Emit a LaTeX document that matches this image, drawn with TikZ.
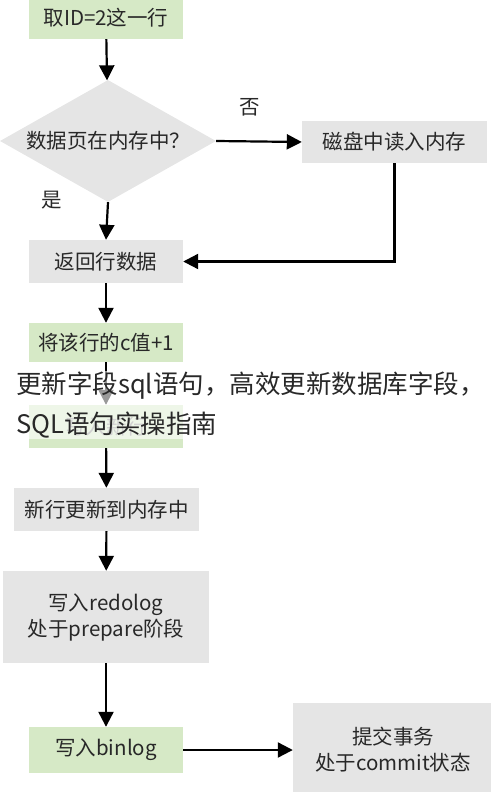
\documentclass[tikz,border=0pt]{standalone}
\usepackage{fontspec}
\setmainfont{Noto Sans CJK SC}
\usetikzlibrary{arrows.meta,shapes.geometric}
\definecolor{boxgreen}{RGB}{214,233,198}
\definecolor{boxgray}{RGB}{229,229,229}
\definecolor{inkgray}{RGB}{40,40,40}
\tikzset{
	greenbox/.style={fill=boxgreen, inner sep=0pt, text=inkgray, font=\fontsize{20.5}{24}\selectfont},
	graybox/.style={fill=boxgray, inner sep=0pt, text=inkgray, align=center, font=\fontsize{20.5}{26}\selectfont},
	flow/.style={line width=2.2pt, -{Triangle[length=15pt,width=15pt]}},
}

\begin{document}
\begin{tikzpicture}[x=1pt,y=-1pt]
		%%%%% START %%%%%
		\useasboundingbox (0, 0) rectangle (490, 792);
		
		\node[greenbox, minimum width=154pt, minimum height=42pt] (idrow) at (106, 18) {取ID=2这一行};
		\node[graybox, shape=diamond, aspect=1.77, minimum width=216pt, minimum height=122pt] (inmem) at (108, 141) {数据页在内存中？};
		\node[graybox, minimum width=185pt, minimum height=42pt] (disk) at (394.5, 142) {磁盘中读入内存};
		\node[text=inkgray, font=\fontsize{20.5}{24}\selectfont] (no) at (250, 107) {否};
		\node[text=inkgray, font=\fontsize{20.5}{24}\selectfont] (yes) at (52, 200) {是};
		
		\node[graybox, minimum width=154pt, minimum height=43pt] (ret) at (106, 261.5) {返回行数据};
		\node[greenbox, minimum width=154pt, minimum height=39pt] (incr) at (106, 342.5) {将该行的c值+1};
		\node[greenbox, minimum width=154pt, minimum height=43pt, text=black!45] (newrow) at (106, 426.5) {写入新行};
		\node[graybox, minimum width=185pt, minimum height=43pt] (tomem) at (106.5, 509.5) {新行更新到内存中};
		
		\node[graybox, minimum width=206pt, minimum height=92pt] (redo) at (106, 617) {写入redolog\\处于prepare阶段};
		\node[greenbox, minimum width=154pt, minimum height=46pt] (binlog) at (106, 750) {写入binlog};
		\node[graybox, minimum width=200pt, minimum height=94pt] (commit) at (393, 750) {提交事务\\处于commit状态};
		
		\draw[flow] (idrow) -- (inmem);
		\draw[flow] (inmem.east) -- (disk.west);
		\draw[flow] (inmem.south) -- (ret.north);
		\draw[flow] (disk.south) |- (ret.east);
		\draw[flow] (ret) -- (incr);
		\draw[flow] (incr) -- (newrow);
		\draw[flow] (newrow) -- (tomem);
		\draw[flow] (tomem) -- (redo);
		\draw[flow] (redo) -- (binlog);
		\draw[flow] (binlog) -- (commit);
		
		\node[anchor=west, align=left, fill=white, fill opacity=0.6, text opacity=1, text=inkgray, inner sep=1pt, font=\fontsize{25.5}{40}\selectfont] (mark) at (15, 405) {更新字段sql语句，高效更新数据库字段，\\SQL语句实操指南};
		%%%%% END %%%%%
\end{tikzpicture}
\end{document}
